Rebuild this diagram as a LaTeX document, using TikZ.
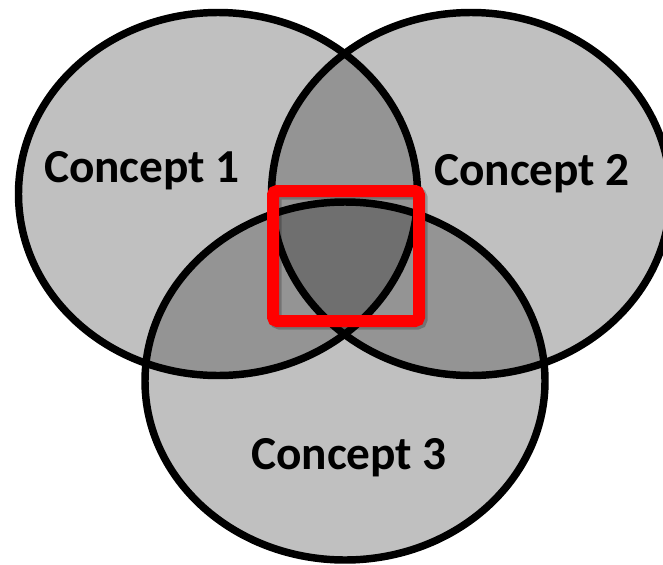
\documentclass[tikz,border=0pt]{standalone}
\usepackage{fontspec}
\setmainfont{Carlito}
\definecolor{shadeone}{RGB}{192,192,192}
\definecolor{shadetwo}{RGB}{148,148,148}
\definecolor{shadethree}{RGB}{111,111,111}
\definecolor{boxred}{RGB}{255,0,0}
\begin{document}
\begin{tikzpicture}[x=0.75pt,y=-0.75pt,
  conceptlabel/.style={font=\bfseries\fontsize{35.5}{40}\selectfont, anchor=base, inner sep=0pt},
  ring/.style={draw=black, line width=5.6pt},
  focusbox/.style={draw=boxred, line width=9pt, rounded corners=3pt},
  boxshadow/.style={draw=black, draw opacity=0.22, line width=9pt, rounded corners=3pt}]
\useasboundingbox (0,0) rectangle (663,564);
\clip (0,0) rectangle (663,564);
\def\ellA{(218,194) ellipse [x radius=199.5, y radius=181.5]}
\def\ellB{(471,194) ellipse [x radius=199.5, y radius=181.5]}
\def\ellC{(345,381) ellipse [x radius=200, y radius=179]}
% single fills
\fill[shadeone] \ellA;
\fill[shadeone] \ellB;
\fill[shadeone] \ellC;
% pairwise overlaps
\begin{scope}
  \clip \ellA;
  \fill[shadetwo] \ellB;
  \fill[shadetwo] \ellC;
\end{scope}
\begin{scope}
  \clip \ellB;
  \fill[shadetwo] \ellC;
\end{scope}
% triple overlap
\begin{scope}
  \clip \ellA;
  \clip \ellB;
  \fill[shadethree] \ellC;
\end{scope}
% outlines
\draw[ring] \ellA;
\draw[ring] \ellB;
\draw[ring] \ellC;
% labels
\node[conceptlabel] (c1) at (142,182) {Concept 1};
\node[conceptlabel] (c2) at (532,185) {Concept 2};
\node[conceptlabel] (c3) at (349,469) {Concept 3};
% red focus box
\draw[boxshadow] (275.5,193.5) rectangle (421.5,323.5);
\draw[focusbox] (273,191) rectangle (419,321);
\end{tikzpicture}
\end{document}
